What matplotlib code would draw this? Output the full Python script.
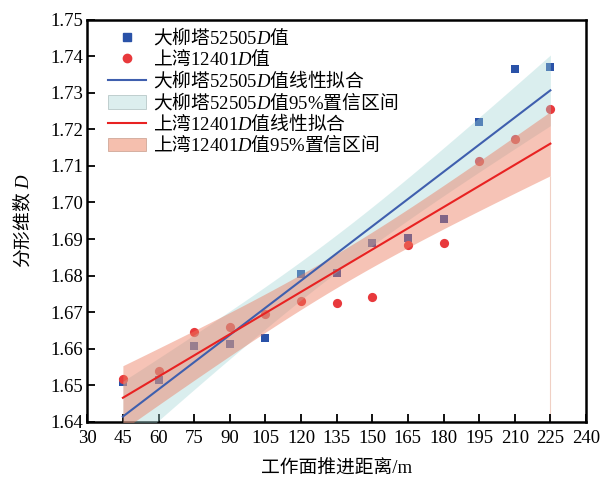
import numpy as np
import matplotlib
matplotlib.use("Agg")
from matplotlib import pyplot as plt
from matplotlib.patches import Patch
from matplotlib.lines import Line2D

plt.rcParams['font.family'] = ['Liberation Serif', 'Noto Sans CJK SC']
plt.rcParams['mathtext.fontset'] = 'custom'
plt.rcParams['mathtext.rm'] = 'Noto Sans CJK SC'
plt.rcParams['mathtext.it'] = 'Liberation Serif:italic'
plt.rcParams['mathtext.sf'] = 'Liberation Serif'
plt.rcParams['axes.unicode_minus'] = False

# advance distance (m)
x = np.array([45, 60, 75, 90, 105, 120, 135, 150, 165, 180, 195, 210, 225])
# fractal dimension D
d_dlt = np.array([1.6510, 1.6513, 1.6606, 1.6614, 1.6630, 1.6803, 1.6808,
                  1.6888, 1.6904, 1.6955, 1.7220, 1.7364, 1.7372])
d_sw = np.array([1.6518, 1.6540, 1.6646, 1.6660, 1.6696, 1.6730, 1.6724,
                 1.6740, 1.6885, 1.6890, 1.7114, 1.7174, 1.7256])

xticks = np.arange(30, 241, 15)
yticks = np.round(np.arange(1.64, 1.7501, 0.01), 2)


def fit_band(x, y, n=200):
    # least squares line and 95% confidence band of the mean
    k, b = np.polyfit(x, y, 1)
    xs = np.linspace(x.min(), x.max(), n)
    ys = k * xs + b
    res = y - (k * x + b)
    s = np.sqrt(np.sum(res ** 2) / (len(x) - 2))
    t = 2.201  # t(0.975, 11)
    se = s * np.sqrt(1 / len(x) + (xs - x.mean()) ** 2 / np.sum((x - x.mean()) ** 2))
    return xs, ys, ys - t * se, ys + t * se


fig = plt.figure(figsize=(6.06, 4.82), dpi=100)
ax = fig.add_axes([0.144, 0.125, 0.823, 0.834])

blue = '#2a52a8'
red = '#e8393c'

ax.scatter(x, d_dlt, marker='s', s=38, color=blue, zorder=2, linewidths=0)
ax.scatter(x, d_sw, marker='o', s=44, color=red, zorder=2, linewidths=0)

xs, ys, lo, hi = fit_band(x, d_dlt)
ax.fill_between(xs, lo, hi, color='#9fd4d4', alpha=0.38, lw=0, zorder=3)
ax.plot(xs, ys, color='#3f5fae', lw=1.5, zorder=4)

xs2, ys2, lo2, hi2 = fit_band(x, d_sw)
ax.fill_between(xs2, lo2, hi2, color='#ec7a5e', alpha=0.45, lw=0, zorder=3)
ax.plot(xs2, ys2, color='#e82222', lw=1.5, zorder=4)
ax.vlines(xs2[-1], 1.64, lo2[-1], color='#f0d0c4', lw=0.8, zorder=1)

ax.set_xlim(30, 240)
ax.set_ylim(1.64, 1.75)
ax.set_xticks(xticks)
ax.set_yticks(yticks)
ax.set_yticklabels([f'{v:.2f}' for v in yticks])
ax.tick_params(direction='in', length=6, width=1.3, labelsize=13.5, pad=3)
ax.tick_params(axis='x', pad=6)
for sp in ax.spines.values():
    sp.set_linewidth(1.8)

ax.set_xlabel('工作面推进距离/m', fontsize=13.5, labelpad=9)
ax.set_ylabel(r'$\mathrm{分形维数}\ D$', fontsize=13.5, labelpad=12)

handles = [
    Line2D([], [], marker='s', ls='', color=blue, markersize=6),
    Line2D([], [], marker='o', ls='', color=red, markersize=6),
    Line2D([], [], color='#3f5fae', lw=1.5),
    Patch(facecolor='#dceeee', edgecolor='#b8c8c8', lw=0.6),
    Line2D([], [], color='#e82222', lw=1.5),
    Patch(facecolor='#f5bfae', edgecolor='#d0a898', lw=0.6),
]
labels = [
    r'$\mathrm{大柳塔}\mathsf{52505}D\mathrm{值}$',
    r'$\mathrm{上湾}\mathsf{12401}D\mathrm{值}$',
    r'$\mathrm{大柳塔}\mathsf{52505}D\mathrm{值线性拟合}$',
    r'$\mathrm{大柳塔}\mathsf{52505}D\mathrm{值}\mathsf{95\%}\mathrm{置信区间}$',
    r'$\mathrm{上湾}\mathsf{12401}D\mathrm{值线性拟合}$',
    r'$\mathrm{上湾}\mathsf{12401}D\mathrm{值}\mathsf{95\%}\mathrm{置信区间}$',
]
ax.legend(handles, labels, loc='upper left', frameon=False, fontsize=13.5,
          labelspacing=0.0, handlelength=2.0, handletextpad=0.4,
          borderaxespad=0.2, bbox_to_anchor=(0.02, 1.013))

fig.savefig('out.png', dpi=100)
